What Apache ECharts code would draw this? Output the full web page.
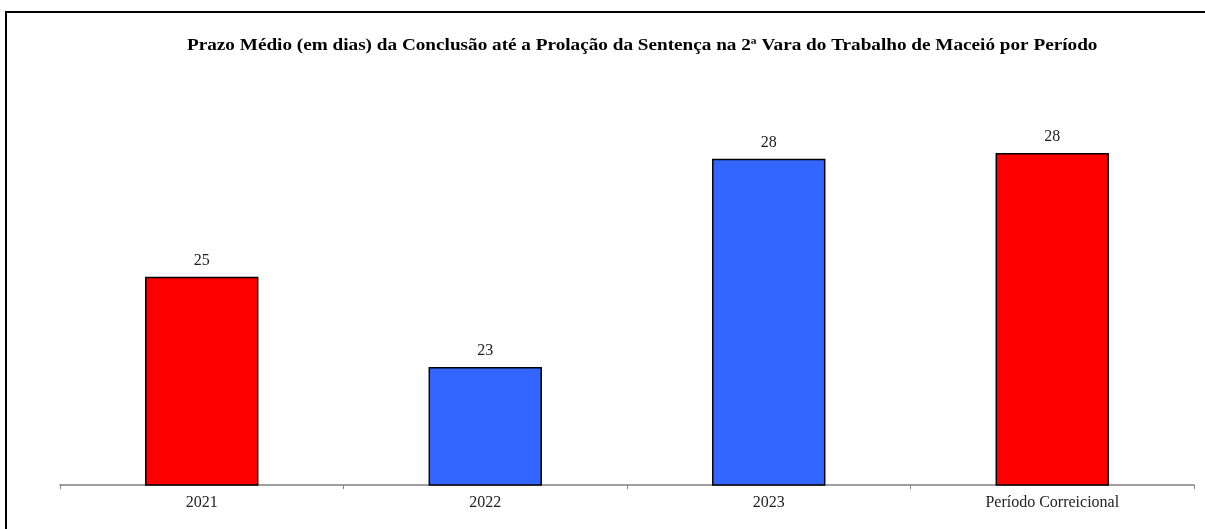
<!DOCTYPE html>
<html>
<head>
<meta charset="utf-8">
<script src="https://cdn.jsdelivr.net/npm/echarts@6/dist/echarts.min.js"></script>
<style>html,body{margin:0;padding:0;background:#fff;}#c{width:1205px;height:529px;}</style>
</head>
<body>
<div id="c"></div>
<script>
const categories = ['2021', '2022', '2023', 'Período Correicional'];
const values = [25.3, 23.0, 28.3, 28.45];
const barColors = ['#FF0000', '#3366FF', '#3366FF', '#FF0000'];
const titleText = 'Prazo Médio (em dias) da Conclusão até a Prolação da Sentença na 2ª Vara do Trabalho de Maceió por Período';

const serif = "'Liberation Serif', 'Times New Roman', serif";
const chart = echarts.init(document.getElementById('c'), null, {renderer: 'canvas'});
chart.setOption({
  animation: false,
  backgroundColor: '#fff',
  graphic: [{
    type: 'text', x: 187, y: 46, scaleX: 1.2, z: 100,
    style: {
      text: titleText, fontFamily: serif, fontWeight: 'bold', fontSize: 16,
      fill: '#000', textVerticalAlign: 'middle', textAlign: 'left'
    }
  }, {
    type: 'rect', x: 0, y: 0, z: 100,
    shape: {x: 6, y: 12, width: 1300, height: 600},
    style: {fill: 'none', stroke: '#000', lineWidth: 2}
  }],
  grid: {left: 60, right: 11, top: 92, bottom: 44},
  xAxis: {
    type: 'category', data: categories,
    axisLine: {lineStyle: {color: '#808080', width: 1.5}},
    axisTick: {show: true, length: 4, lineStyle: {color: '#808080', width: 1}},
    axisLabel: {fontFamily: serif, fontSize: 16, color: '#222', margin: 10}
  },
  yAxis: {
    type: 'value', min: 20, max: 30, show: false,
    splitLine: {show: false}
  },
  series: [{
    type: 'bar',
    data: values.map((v, i) => ({value: v, itemStyle: {color: barColors[i]}})),
    barWidth: '40%',
    itemStyle: {borderColor: '#000', borderWidth: 1.5},
    label: {
      show: true, position: 'top', distance: 8,
      fontFamily: serif, fontSize: 16, color: '#222',
      formatter: p => Math.round(p.value)
    }
  }]
});
</script>
</body>
</html>
